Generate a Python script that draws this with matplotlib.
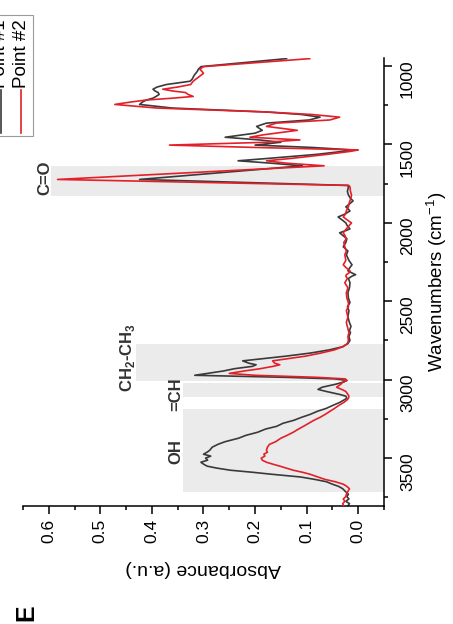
import numpy as np
import matplotlib
matplotlib.use('Agg')
import matplotlib.pyplot as plt
from matplotlib.patches import Rectangle
from matplotlib.lines import Line2D
from matplotlib.ticker import MultipleLocator, FormatStrFormatter

plt.rcParams['font.family'] = ['Liberation Sans', 'DejaVu Sans']
plt.rcParams['mathtext.fontset'] = 'custom'
plt.rcParams['mathtext.rm'] = 'Liberation Sans'

# FTIR spectra (wavenumber in cm-1, absorbance in a.u.)
wn_p1 = [3805, 3790, 3775, 3760, 3745, 3730, 3712, 3695, 3680, 3666,
         3650, 3635, 3620, 3602, 3590, 3577, 3563, 3551, 3538, 3526,
         3513, 3500, 3487, 3475, 3462, 3450, 3430, 3412, 3395, 3373,
         3355, 3335, 3315, 3297, 3278, 3259, 3240, 3221, 3200, 3183,
         3165, 3145, 3130, 3119, 3105, 3094, 3075, 3062, 3048, 3030,
         3015, 3005, 2995, 2985, 2972, 2960, 2945, 2930, 2915, 2905,
         2895, 2880, 2868, 2850, 2830, 2810, 2790, 2770, 2750, 2725,
         2700, 2687, 2660, 2636, 2600, 2560, 2535, 2509, 2480, 2446,
         2415, 2382, 2355, 2340, 2331, 2320, 2306, 2285, 2268, 2240,
         2204, 2180, 2153, 2125, 2102, 2080, 2064, 2050, 2039, 2020,
         2001, 1985, 1963, 1945, 1925, 1910, 1899, 1880, 1861, 1840,
         1823, 1800, 1772, 1762, 1724, 1637, 1620, 1605, 1590, 1564,
         1545, 1536, 1520, 1505, 1487, 1472, 1455, 1440, 1429, 1411,
         1398, 1386, 1365, 1345, 1327, 1310, 1294, 1269, 1246, 1230,
         1218, 1206, 1195, 1182, 1170, 1160, 1149, 1135, 1119, 1098,
         1085, 1073, 1060, 1048, 1035, 1022, 1005, 954]
abs_p1 = [0.020, 0.017, 0.024, 0.018, 0.022, 0.019, 0.025, 0.030, 0.038, 0.050,
          0.062, 0.085, 0.112, 0.170, 0.205, 0.248, 0.275, 0.293, 0.300, 0.305,
          0.292, 0.296, 0.286, 0.300, 0.293, 0.288, 0.283, 0.272, 0.258, 0.232,
          0.218, 0.195, 0.180, 0.158, 0.146, 0.125, 0.110, 0.093, 0.078, 0.062,
          0.050, 0.036, 0.028, 0.022, 0.024, 0.036, 0.062, 0.078, 0.070, 0.045,
          0.028, 0.022, 0.045, 0.140, 0.317, 0.292, 0.262, 0.240, 0.205, 0.198,
          0.212, 0.224, 0.190, 0.140, 0.092, 0.056, 0.030, 0.020, 0.016, 0.018,
          0.015, 0.017, 0.014, 0.017, 0.020, 0.018, 0.021, 0.016, 0.019, 0.020,
          0.017, 0.016, 0.019, 0.012, 0.005, 0.012, 0.020, 0.016, 0.012, 0.018,
          0.023, 0.020, 0.029, 0.024, 0.022, 0.030, 0.036, 0.024, 0.016, 0.021,
          0.024, 0.030, 0.039, 0.026, 0.016, 0.020, 0.024, 0.017, 0.010, 0.016,
          0.019, 0.021, 0.019, 0.020, 0.424, 0.108, 0.170, 0.233, 0.175, 0.080,
          0.030, 0.010, 0.090, 0.200, 0.150, 0.192, 0.258, 0.225, 0.200, 0.186,
          0.192, 0.197, 0.178, 0.095, 0.074, 0.110, 0.178, 0.360, 0.424, 0.418,
          0.411, 0.398, 0.392, 0.386, 0.388, 0.394, 0.398, 0.390, 0.372, 0.326,
          0.322, 0.320, 0.318, 0.315, 0.312, 0.310, 0.305, 0.139]

wn_p2 = wn_p1
abs_p2 = [0.028, 0.030, 0.026, 0.029, 0.024, 0.023, 0.020, 0.017, 0.022, 0.029,
          0.045, 0.065, 0.078, 0.094, 0.108, 0.126, 0.140, 0.152, 0.166, 0.178,
          0.186, 0.188, 0.181, 0.183, 0.176, 0.178, 0.176, 0.172, 0.160, 0.150,
          0.138, 0.126, 0.116, 0.106, 0.096, 0.086, 0.074, 0.064, 0.054, 0.046,
          0.038, 0.028, 0.022, 0.019, 0.018, 0.020, 0.024, 0.032, 0.042, 0.034,
          0.030, 0.022, 0.025, 0.080, 0.200, 0.250, 0.222, 0.190, 0.165, 0.152,
          0.162, 0.166, 0.140, 0.102, 0.072, 0.046, 0.030, 0.021, 0.019, 0.020,
          0.018, 0.019, 0.021, 0.023, 0.020, 0.023, 0.019, 0.019, 0.022, 0.023,
          0.020, 0.026, 0.021, 0.024, 0.023, 0.018, 0.016, 0.024, 0.029, 0.024,
          0.026, 0.023, 0.026, 0.028, 0.023, 0.026, 0.029, 0.026, 0.023, 0.018,
          0.013, 0.020, 0.029, 0.025, 0.023, 0.021, 0.019, 0.018, 0.016, 0.014,
          0.013, 0.015, 0.016, 0.018, 0.583, 0.066, 0.140, 0.178, 0.130, 0.060,
          0.015, 0.000, 0.200, 0.366, 0.178, 0.113, 0.210, 0.185, 0.160, 0.118,
          0.150, 0.178, 0.159, 0.055, 0.036, 0.090, 0.178, 0.390, 0.472, 0.440,
          0.411, 0.360, 0.320, 0.330, 0.335, 0.360, 0.379, 0.350, 0.325, 0.320,
          0.315, 0.310, 0.305, 0.300, 0.303, 0.307, 0.300, 0.094]

series_names = ['Point #1', 'Point #2']

# shaded assignment bands
band_labels = ['OH', '=CH', r'CH$_\mathregular{2}$-CH$_\mathregular{3}$', 'C=O']
band_lo = [3190, 3020, 2770, 1640]
band_hi = [3715, 3110, 3010, 1830]
band_top = [0.34, 0.34, 0.43, 0.595]

W, H = 453, 624
fig = plt.figure(figsize=(W / 100, H / 100), dpi=100)


def fpx(x, y):
    # pixel position (from top-left) -> figure fraction
    return x / W, 1 - y / H


ax = fig.add_axes([23 / W, 1 - 506 / H, (384 - 23) / W, (506 - 58) / H])
ax.set_xlim(0.65, -0.05)
ax.set_ylim(3805, 950)

for lo, hi, top in zip(band_lo, band_hi, band_top):
    ax.fill_betweenx([lo, hi], top, -0.05, color='#ebebeb', lw=0, zorder=0)

ax.plot(abs_p1, wn_p1, color='#3a3a3a', lw=1.2, zorder=2)
ax.plot(abs_p2, wn_p2, color='#e3202a', lw=1.2, zorder=3)

# band labels, placed in data space next to each band
label_pos = [(0.353, 3460), (0.353, 3095), (0.447, 2860), (0.608, 1710)]
for txt, (a, w) in zip(band_labels, label_pos):
    ax.text(a, w, txt, rotation=90, ha='center', va='center',
            fontsize=12, fontweight='bold', color='#333333')

ax.spines['left'].set_visible(False)
ax.spines['top'].set_visible(False)
for s in ('right', 'bottom'):
    ax.spines[s].set_linewidth(1.1)

ax.yaxis.tick_right()
ax.yaxis.set_label_position('right')
ax.set_xticks(np.round(np.arange(0, 0.61, 0.1), 1))
ax.xaxis.set_major_formatter(FormatStrFormatter('%.1f'))
ax.xaxis.set_minor_locator(MultipleLocator(0.05))
ax.set_yticks(np.arange(1000, 3501, 500))
ax.yaxis.set_minor_locator(MultipleLocator(250))

ax.tick_params(which='major', direction='out', length=5.5, width=1.1, labelsize=12.5)
ax.tick_params(which='minor', direction='out', length=3, width=1.1)
ax.tick_params(axis='x', labelrotation=90, pad=4)
ax.tick_params(axis='y', labelrotation=90, pad=6)

ax.set_xlabel('Absorbance (a.u.)', fontsize=14, rotation=180, labelpad=12)
ax.set_ylabel(r'Wavenumbers (cm$^{\mathregular{-1}}$)', fontsize=13.5, rotation=90, labelpad=7)

# legend, drawn by hand because the whole chart is turned on its side
fig.add_artist(Rectangle(fpx(-40, 136), 73 / W, 121 / H, transform=fig.transFigure,
                         fill=False, ec='#9a9a9a', lw=0.8))
for xc, name, col in zip([1, 21], series_names, ['#3a3a3a', '#e3202a']):
    x0, y0 = fpx(xc, 90)
    x1, y1 = fpx(xc, 133)
    fig.add_artist(Line2D([x0, x1], [y0, y1], color=col, lw=1.2, transform=fig.transFigure))
    tx, ty = fpx(xc, 88)
    fig.text(tx, ty, name, rotation=90, ha='center', va='bottom', fontsize=13.5)

ex, ey = fpx(26, 613)
fig.text(ex, ey, 'E', rotation=90, ha='center', va='center', fontsize=18, fontweight='bold')

fig.savefig('out.png', dpi=100)
